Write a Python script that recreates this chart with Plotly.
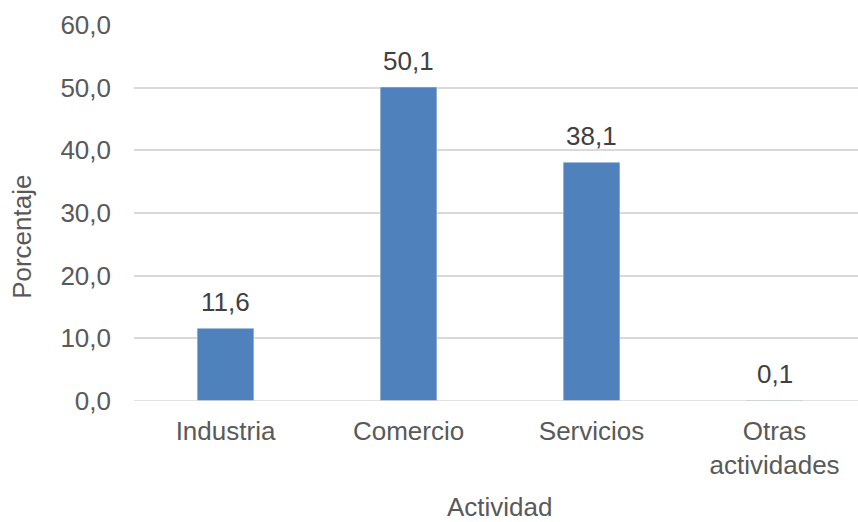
import plotly.graph_objects as go

categories = ["Industria", "Comercio", "Servicios", "Otras<br>actividades"]
values = [11.6, 50.1, 38.1, 0.1]
y_ticks = [0, 10, 20, 30, 40, 50, 60]

FONT = "Liberation Sans, Arial"
FS = 26

fig = go.Figure()
fig.add_trace(go.Bar(
    x=categories, y=values, width=0.31,
    marker=dict(color="#4F81BD"),
    hoverinfo="skip",
))

for c, v in zip(categories, values):
    fig.add_annotation(
        x=c, y=v, text=f"{v:.1f}".replace(".", ","), showarrow=False,
        yanchor="bottom", yshift=9,
        font=dict(family=FONT, size=FS, color="#404040"),
    )

fig.add_annotation(
    xref="paper", yref="paper", x=-0.155, y=0.436, xanchor="center", yanchor="middle",
    text="Porcentaje", textangle=-90, showarrow=False,
    font=dict(family=FONT, size=FS, color="#595959"),
)
fig.add_annotation(
    xref="paper", yref="paper", x=0.5055, y=-0.283, xanchor="center", yanchor="middle",
    text="Actividad", showarrow=False, borderpad=0,
    font=dict(family=FONT, size=FS, color="#595959"),
)

fig.update_layout(
    width=858, height=522,
    margin=dict(l=134, r=0, t=25, b=121),
    plot_bgcolor="white", paper_bgcolor="white",
    separators=",.",
    showlegend=False,
    font=dict(family=FONT, size=FS, color="#595959"),
    xaxis=dict(
        range=[-0.5, 3.456], automargin=False,
        showgrid=False, showline=False, zeroline=False,
        tickfont=dict(size=FS, color="#595959"),
        ticklabelstandoff=12,
    ),
    yaxis=dict(
        range=[0, 60], tickvals=y_ticks, tickformat=".1f", automargin=False,
        showgrid=True, gridcolor="#D9D9D9", gridwidth=1.5,
        zeroline=False, showline=False,
        tickfont=dict(size=FS, color="#595959"),
        ticklabelstandoff=22,
    ),
)
fig.add_hline(y=0, line=dict(color="#D9D9D9", width=1.5))

fig.write_html("out.html")
